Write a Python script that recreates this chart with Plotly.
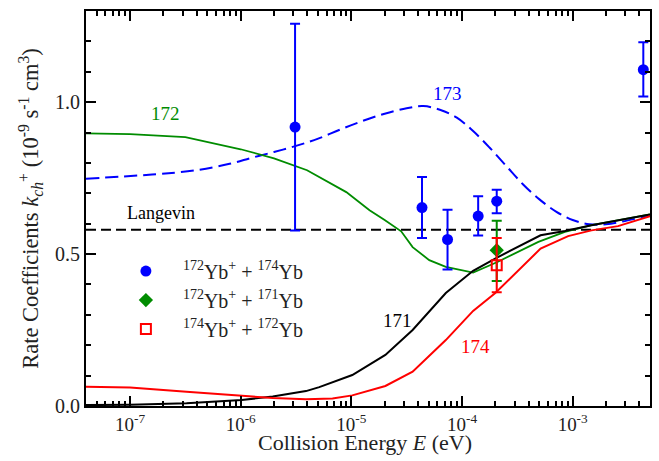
import numpy as np
import plotly.graph_objects as go

# ---------------- data ----------------
# theory curves: collision energy (eV) and rate coefficient (1e-9 cm^3/s)
E172 = [4.0e-8, 1.0e-7, 3.16e-7, 1.0e-6, 2.0e-6, 3.98e-6, 9.0e-6, 1.46e-5, 2.0e-5, 2.82e-5,
        3.58e-5, 5.06e-5, 7.14e-5, 1.26e-4, 2.09e-4, 4.9e-4, 8.5e-4, 1.48e-3, 5.0e-3]
K172 = [0.897, 0.895, 0.885, 0.845, 0.815, 0.776, 0.704, 0.644, 0.612, 0.575,
        0.523, 0.480, 0.458, 0.439, 0.474, 0.540, 0.573, 0.595, 0.631]

E171 = [4.0e-8, 1.0e-7, 3.24e-7, 1.02e-6, 1.95e-6, 3.89e-6, 5.13e-6, 1.02e-5, 2.03e-5,
        3.58e-5, 7.14e-5, 1.26e-4, 2.09e-4, 5.13e-4, 8.5e-4, 1.48e-3, 5.0e-3]
K171 = [0.003, 0.004, 0.009, 0.020, 0.031, 0.049, 0.062, 0.102, 0.168,
        0.250, 0.372, 0.445, 0.489, 0.562, 0.576, 0.595, 0.630]

E174 = [4.0e-8, 1.0e-7, 3.24e-7, 1.02e-6, 1.95e-6, 3.89e-6, 6.76e-6, 1.02e-5, 2.03e-5,
        3.58e-5, 7.14e-5, 1.26e-4, 2.0e-4, 5.13e-4, 9.1e-4, 1.48e-3, 2.57e-3, 5.0e-3]
K174 = [0.063, 0.061, 0.047, 0.033, 0.026, 0.022, 0.025, 0.035, 0.066,
        0.113, 0.217, 0.313, 0.372, 0.518, 0.559, 0.578, 0.592, 0.625]

E173 = [4.0e-8, 1.58e-7, 3.98e-7, 7.94e-7, 1.26e-6, 2.0e-6, 3.16e-6, 5.01e-6, 7.94e-6,
        1.26e-5, 2.0e-5, 3.16e-5, 4.47e-5, 6.31e-5, 8.91e-5, 1.26e-4, 1.78e-4, 2.51e-4,
        3.55e-4, 5.01e-4, 7.08e-4, 1.0e-3, 1.41e-3, 2.0e-3, 2.82e-3, 5.0e-3]
K173 = [0.748, 0.762, 0.776, 0.797, 0.817, 0.836, 0.856, 0.880, 0.910,
        0.938, 0.962, 0.980, 0.987, 0.975, 0.950, 0.905, 0.850, 0.790,
        0.730, 0.680, 0.640, 0.612, 0.598, 0.598, 0.607, 0.628]

LANGEVIN = 0.58
E_RANGE = [4.0e-8, 5.0e-3]

# measurements
E_174 = [3.1e-6, 4.35e-5, 7.4e-5, 1.4e-4, 2.06e-4, 4.35e-3]
V_174 = [0.918, 0.653, 0.548, 0.625, 0.674, 1.107]
HI_174 = [1.258, 0.754, 0.646, 0.690, 0.712, 1.197]
LO_174 = [0.578, 0.553, 0.449, 0.561, 0.634, 1.019]

E_171 = [2.06e-4]
V_171 = [0.513]
HI_171 = [0.610]
LO_171 = [0.411]

E_172 = [2.06e-4]
V_172 = [0.463]
HI_172 = [0.553]
LO_172 = [0.374]

XTICKS = [1e-7, 1e-6, 1e-5, 1e-4, 1e-3]
XTICKTEXT = ["10<sup>-7</sup>", "10<sup>-6</sup>", "10<sup>-5</sup>", "10<sup>-4</sup>", "10<sup>-3</sup>"]
YTICKS = [0.0, 0.5, 1.0]
YTICKTEXT = ["0.0", "0.5", "1.0"]

# ---------------- styling ----------------
FONT = "Liberation Serif, Times New Roman, Times, serif"
BLUE = "#0000ff"
GREEN = "#008c00"
RED = "#ff0000"
TXT = "#222222"

fig = go.Figure()

fig.add_trace(go.Scatter(x=E_RANGE, y=[LANGEVIN, LANGEVIN], mode="lines",
                         line=dict(color="black", width=2, dash="10px,5px"), showlegend=False))
fig.add_trace(go.Scatter(x=E173, y=K173, mode="lines", line_shape="spline",
                         line=dict(color=BLUE, width=2, dash="13px,6px"), showlegend=False))
fig.add_trace(go.Scatter(x=E172, y=K172, mode="lines",
                         line=dict(color=GREEN, width=1.8), showlegend=False))
fig.add_trace(go.Scatter(x=E171, y=K171, mode="lines",
                         line=dict(color="black", width=2), showlegend=False))
fig.add_trace(go.Scatter(x=E174, y=K174, mode="lines",
                         line=dict(color=RED, width=2), showlegend=False))


def err(v, hi, lo):
    return [h - a for a, h in zip(v, hi)], [a - l for a, l in zip(v, lo)]


up, dn = err(V_174, HI_174, LO_174)
fig.add_trace(go.Scatter(x=E_174, y=V_174, mode="markers",
                         name="<sup>172</sup>Yb<sup>+</sup> + <sup>174</sup>Yb",
                         marker=dict(symbol="circle", size=11, color=BLUE),
                         error_y=dict(type="data", symmetric=False, array=up, arrayminus=dn,
                                      color=BLUE, thickness=2, width=5)))
up, dn = err(V_171, HI_171, LO_171)
fig.add_trace(go.Scatter(x=E_171, y=V_171, mode="markers",
                         name="<sup>172</sup>Yb<sup>+</sup> + <sup>171</sup>Yb",
                         marker=dict(symbol="diamond", size=11, color=GREEN),
                         error_y=dict(type="data", symmetric=False, array=up, arrayminus=dn,
                                      color=GREEN, thickness=2, width=5)))
up, dn = err(V_172, HI_172, LO_172)
fig.add_trace(go.Scatter(x=E_172, y=V_172, mode="markers",
                         name="<sup>174</sup>Yb<sup>+</sup> + <sup>172</sup>Yb",
                         marker=dict(symbol="square-open", size=10, color=RED, line=dict(width=2, color=RED)),
                         error_y=dict(type="data", symmetric=False, array=up, arrayminus=dn,
                                      color=RED, thickness=2, width=5)))

# curve labels
labels = [
    ("172", 10 ** -6.679, 0.964, GREEN, 19),
    ("173", 10 ** -4.131, 1.030, BLUE, 19),
    ("Langevin", 10 ** -6.724, 0.635, "black", 18),
    ("171", 10 ** -4.581, 0.283, "black", 19),
    ("174", 10 ** -3.876, 0.197, RED, 19),
]
for t, x, y, c, s in labels:
    fig.add_annotation(x=np.log10(x), y=y, text=t, showarrow=False,
                       font=dict(family=FONT, size=s, color=c))

# x-axis title placed as a paper annotation
fig.add_annotation(xref="paper", yref="paper", x=0.4947, y=-0.093,
                   xanchor="center", yanchor="middle", showarrow=False,
                   text="Collision Energy <i>E</i> (eV)",
                   font=dict(family=FONT, size=22, color=TXT))

minor_x = [m * 10.0 ** k for k in range(-8, -2) for m in range(2, 10)
           if E_RANGE[0] <= m * 10.0 ** k <= E_RANGE[1]]

fig.update_layout(
    width=659, height=461,
    margin=dict(l=86, r=7, t=11, b=55),
    paper_bgcolor="white", plot_bgcolor="white",
    font=dict(family=FONT, size=19, color=TXT),
    legend=dict(x=0.0406, y=0.391, xanchor="left", yanchor="top",
                bgcolor="rgba(0,0,0,0)", itemwidth=64,
                font=dict(family=FONT, size=20, color=TXT), tracegroupgap=0),
    xaxis=dict(type="log", range=[np.log10(E_RANGE[0]), np.log10(E_RANGE[1])],
               tickmode="array", tickvals=XTICKS, ticktext=XTICKTEXT,
               ticks="inside", ticklen=10, tickwidth=1.5, tickcolor="black",
               showline=True, linecolor="black", linewidth=2, mirror="allticks",
               showgrid=False, zeroline=False,
               minor=dict(tickmode="array", tickvals=minor_x, ticks="inside", ticklen=5,
                          tickwidth=1.5, tickcolor="black", showgrid=False),
               tickfont=dict(family=FONT, size=19, color=TXT)),
    yaxis=dict(range=[0, 1.3], tickmode="array", tickvals=YTICKS, ticktext=YTICKTEXT,
               ticks="inside", ticklen=10, tickwidth=1.5, tickcolor="black",
               showline=True, linecolor="black", linewidth=2, mirror="allticks",
               showgrid=False, zeroline=False,
               minor=dict(dtick=0.1, ticks="inside", ticklen=5, tickwidth=1.5,
                          tickcolor="black", showgrid=False),
               tickfont=dict(family=FONT, size=20, color=TXT),
               title=dict(text="Rate Coefficients <i>k</i><sub><i>ch</i></sub><sup>+</sup> "
                               "(10<sup>-9</sup> s<sup>-1</sup> cm<sup>3</sup>)", standoff=10,
                          font=dict(family=FONT, size=22.5, color=TXT))),
)

fig.write_html("out.html")
